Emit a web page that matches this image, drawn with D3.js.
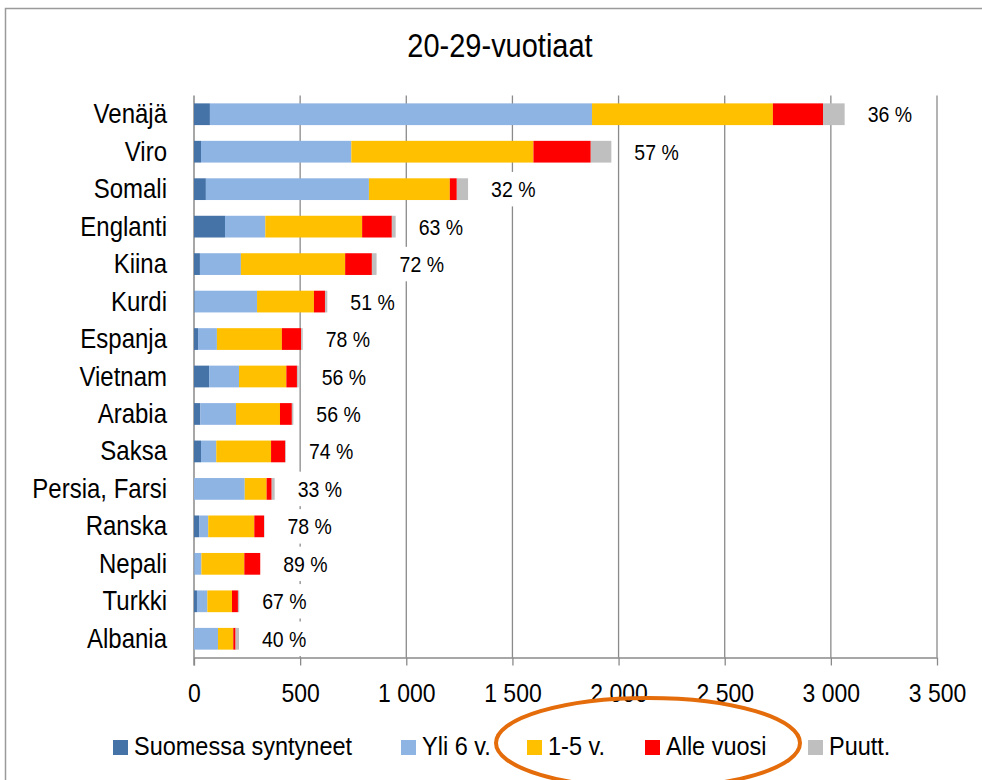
<!DOCTYPE html>
<html>
<head>
<meta charset="utf-8">
<script src="https://cdn.jsdelivr.net/npm/d3@7"></script>
<style>
  body { margin: 0; background: #fff; overflow: hidden; }
  svg { display: block; }
  svg text { font-family: "Liberation Sans", Arial, sans-serif; fill: #000; }
</style>
</head>
<body>
<svg id="chart" width="982" height="780"></svg>
<script>
// values
const languages = ["Venäjä", "Viro", "Somali", "Englanti", "Kiina", "Kurdi", "Espanja", "Vietnam",
                   "Arabia", "Saksa", "Persia, Farsi", "Ranska", "Nepali", "Turkki", "Albania"];
const seriesNames = ["Suomessa syntyneet", "Yli 6 v.", "1-5 v.", "Alle vuosi", "Puutt."];
const suomessa  = [75, 33, 56, 146, 28, 3, 19, 71, 30, 33, 0, 24, 2, 14, 0];
const yli6      = [1800, 708, 768, 190, 193, 294, 89, 141, 168, 72, 239, 43, 33, 49, 113];
const v1to5     = [852, 858, 381, 456, 491, 268, 306, 223, 207, 258, 103, 217, 202, 116, 72];
const alleVuosi = [236, 270, 33, 140, 126, 52, 91, 50, 56, 67, 24, 46, 75, 28, 11];
const puutt     = [102, 97, 53, 18, 22, 11, 7, 8, 7, 3, 14, 2, 0, 6, 16];
const percents  = [36, 57, 32, 63, 72, 51, 78, 56, 56, 74, 33, 78, 89, 67, 40];
const xTicks    = [0, 500, 1000, 1500, 2000, 2500, 3000, 3500];
const colors    = ["#4573a8", "#8eb4e3", "#ffc000", "#ff0000", "#bfbfbf"];

const svg = d3.select("#chart");

// text in the original is a bit taller than wide
const stretch = 1.12;

// build rows for stacking
const rows = languages.map((lang, i) => ({
  lang: lang,
  s0: suomessa[i], s1: yli6[i], s2: v1to5[i], s3: alleVuosi[i], s4: puutt[i],
  pct: percents[i]
}));
const keys = ["s0", "s1", "s2", "s3", "s4"];
const stacked = d3.stack().keys(keys)(rows);

const x = d3.scaleLinear().domain([0, 3500]).range([194, 937]);
const y = d3.scaleBand().domain(languages).range([95.5, 657.5])
            .paddingInner(0.42).paddingOuter(0.21);
const color = d3.scaleOrdinal().domain(keys).range(colors);

const fiFormat = d3.formatLocale({decimal: ",", thousands: " ", grouping: [3], currency: ["", " €"]}).format(",d");

// outer chart border (right and bottom edges fall outside the picture)
svg.append("rect")
   .attr("x", 5.5).attr("y", 8.5).attr("width", 1000).attr("height", 800)
   .attr("fill", "none").attr("stroke", "#9a9a9a").attr("stroke-width", 1.5);

// title
svg.append("text")
   .attr("transform", `translate(500,57) scale(1,${stretch})`)
   .attr("text-anchor", "middle")
   .style("font-size", "29px").text("20-29-vuotiaat");

// gridlines
svg.append("g")
   .selectAll("line")
   .data(xTicks.slice(1))
   .join("line")
   .attr("x1", d => x(d)).attr("x2", d => x(d))
   .attr("y1", 95.5).attr("y2", 657.5)
   .attr("stroke", "#8a8a8a").attr("stroke-width", 1.3);

// x axis
const xAxis = svg.append("g")
   .attr("transform", "translate(0,657.5)")
   .call(d3.axisBottom(x).tickValues(xTicks).tickFormat(fiFormat).tickSize(8).tickSizeOuter(0));
xAxis.select(".domain").attr("stroke", "#8a8a8a").attr("stroke-width", 1.5);
xAxis.selectAll(".tick line").attr("stroke", "#8a8a8a").attr("stroke-width", 1.3);
xAxis.selectAll(".tick text")
   .attr("y", null).attr("dy", null)
   .attr("transform", `translate(0,44) scale(1,${stretch})`)
   .style("font-size", "23px")
   .style("font-family", "'Liberation Sans', Arial, sans-serif")
   .attr("fill", "#000");

// left axis line
svg.append("line")
   .attr("x1", x(0)).attr("x2", x(0)).attr("y1", 95.5).attr("y2", 665.5)
   .attr("stroke", "#8a8a8a").attr("stroke-width", 1.5);

// category labels
svg.append("g")
   .selectAll("text")
   .data(languages)
   .join("text")
   .attr("transform", d => `translate(167,${y(d) + y.bandwidth() / 2 + 9}) scale(1,${stretch})`)
   .attr("text-anchor", "end")
   .style("font-size", "24px")
   .text(d => d);

// stacked bars
svg.append("g")
   .selectAll("g")
   .data(stacked)
   .join("g")
   .attr("fill", d => color(d.key))
   .selectAll("rect")
   .data(d => d)
   .join("rect")
   .attr("x", d => x(d[0]))
   .attr("y", d => y(d.data.lang))
   .attr("width", d => x(d[1]) - x(d[0]))
   .attr("height", y.bandwidth());

// percent labels with white boxes
const totals = rows.map(r => keys.reduce((s, k) => s + r[k], 0));
const lab = svg.append("g")
   .selectAll("g")
   .data(rows)
   .join("g")
   .attr("transform", (d, i) => `translate(${x(totals[i]) + 23},${y(d.lang) + y.bandwidth() / 2})`);
lab.append("rect")
   .attr("x", -4).attr("y", -y.step() / 2 + 1.5)
   .attr("width", 52).attr("height", y.step() - 3)
   .attr("fill", "#fff");
lab.append("text")
   .attr("transform", `translate(0,8) scale(1,${stretch})`)
   .style("font-size", "19.5px")
   .text(d => d.pct + " %");

// legend
const legendX = [113, 401, 527, 645, 808];
const legend = svg.append("g")
   .selectAll("g")
   .data(seriesNames)
   .join("g")
   .attr("transform", (d, i) => `translate(${legendX[i]},740)`);
legend.append("rect")
   .attr("width", 15).attr("height", 15)
   .attr("fill", (d, i) => colors[i]);
legend.append("text")
   .attr("transform", `translate(21,15) scale(1,${stretch})`)
   .style("font-size", "23.5px")
   .text(d => d);

// orange ellipse annotation around two legend items
svg.append("ellipse")
   .attr("cx", 648).attr("cy", 743).attr("rx", 152).attr("ry", 45)
   .attr("fill", "none").attr("stroke", "#e46c0a").attr("stroke-width", 4);
</script>
</body>
</html>
